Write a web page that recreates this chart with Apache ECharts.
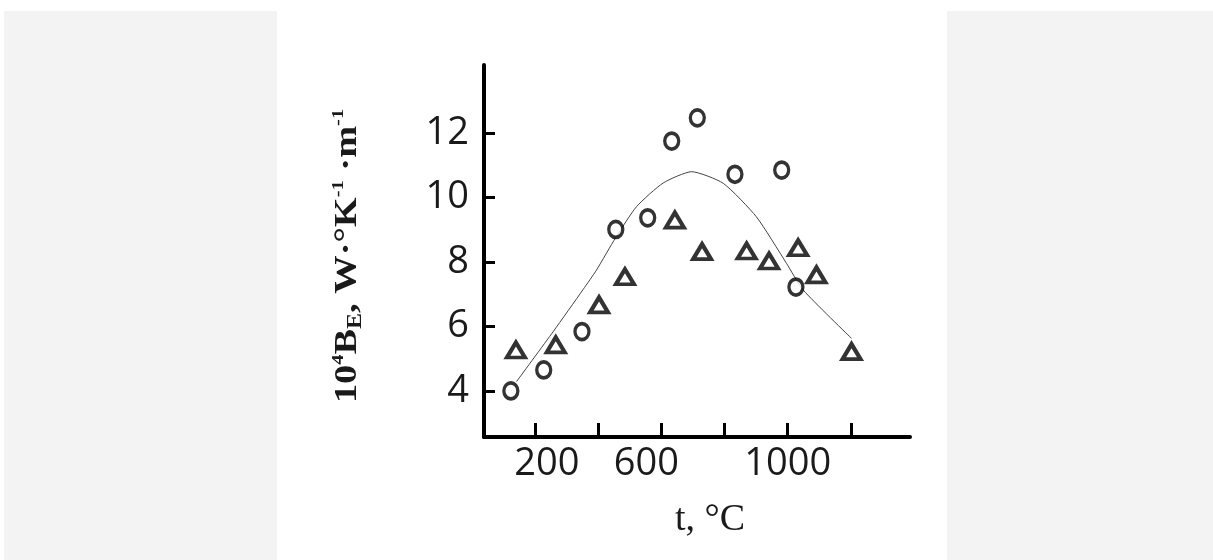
<!DOCTYPE html>
<html lang="en">
<head>
    <meta charset="UTF-8">
    <title>Thermal coefficient vs temperature</title>
    <script src="https://cdn.jsdelivr.net/npm/echarts@6.0.0/dist/echarts.min.js"></script>
    <style>
        html, body { margin: 0; padding: 0; background: #ffffff; }
        #main { width: 1213px; height: 560px; }
    </style>
</head>
<body>
    <div id="main"></div>
    <script>
        // readings: [t (°C), 10^4 B_E]
        const circlePoints = [
            [124, 4.0], [228, 4.65], [349, 5.84], [456, 9.01], [557, 9.37],
            [633, 11.75], [714, 12.47], [833, 10.72], [981, 10.85], [1026, 7.22]
        ];
        const trianglePoints = [
            [140, 5.27], [266, 5.43], [403, 6.67], [485, 7.54], [643, 9.30],
            [729, 8.32], [870, 8.34], [941, 8.03], [1033, 8.44], [1091, 7.6], [1202, 5.22]
        ];
        const fitCurve = [
            [142, 4.29], [258, 5.84], [353, 7.15], [395, 7.75], [456, 8.76], [522, 9.72],
            [606, 10.45], [696, 10.8], [796, 10.44], [901, 9.4], [996, 7.96],
            [1049, 7.13], [1202, 5.63]
        ];
        const xTicks = [200, 400, 600, 800, 1000, 1200];
        const xLabels = [200, 600, 1000];
        const yTicks = [4, 6, 8, 10, 12];

        const chart = echarts.init(document.getElementById('main'));

        const serif = 'Liberation Serif';
        const option = {
            backgroundColor: '#ffffff',
            animation: false,
            graphic: [
                // grey side panels of the original page
                { type: 'rect', z: -10, shape: { x: 4, y: 11, width: 273, height: 549 }, style: { fill: '#f3f3f3' } },
                { type: 'rect', z: -10, shape: { x: 947, y: 11, width: 266, height: 549 }, style: { fill: '#f3f3f3' } },
                {
                    type: 'text',
                    x: 348,
                    y: 256,
                    rotation: Math.PI / 2,
                    scaleX: 1.2,
                    style: {
                        text: '{a|10}{s|4}{a|B}{b|E}{a|, W·°K}{s|-1}{a| ·m}{s|-1}',
                        align: 'center',
                        verticalAlign: 'middle',
                        fill: '#1a1a1a',
                        rich: {
                            a: { fontFamily: serif, fontWeight: 'bold', fontSize: 32, lineHeight: 36, fill: '#1a1a1a' },
                            s: { fontFamily: serif, fontWeight: 'bold', fontSize: 17, lineHeight: 36, verticalAlign: 'top', fill: '#1a1a1a' },
                            b: { fontFamily: serif, fontWeight: 'bold', fontSize: 20, lineHeight: 36, verticalAlign: 'bottom', fill: '#1a1a1a' }
                        }
                    }
                }
            ],
            grid: { left: 484, right: 303, top: 65, bottom: 123 },
            xAxis: {
                type: 'value',
                min: 39,
                max: 1387,
                name: 't, °C',
                nameLocation: 'middle',
                nameGap: 64,
                nameTextStyle: { fontFamily: serif, fontSize: 38, color: '#1a1a1a', padding: [0, 0, 0, 26] },
                splitLine: { show: false },
                axisLine: { show: true, lineStyle: { color: '#000', width: 4 } },
                axisTick: { show: true, inside: true, length: 14, customValues: xTicks, lineStyle: { color: '#000', width: 3 } },
                axisLabel: {
                    customValues: xLabels,
                    margin: 8,
                    fontFamily: 'Open Sans',
                    fontSize: 38,
                    color: '#1a1a1a',
                    formatter: v => v === 200 ? '{r|200}' : (v === 600 ? '{l|600}' : '{n|' + v + '}'),
                    rich: {
                        r: { fontFamily: 'Open Sans', fontSize: 38, color: '#1a1a1a', padding: [0, 0, 0, 24] },
                        l: { fontFamily: 'Open Sans', fontSize: 38, color: '#1a1a1a', padding: [0, 30, 0, 0] },
                        n: { fontFamily: 'Open Sans', fontSize: 38, color: '#1a1a1a' }
                    }
                }
            },
            yAxis: {
                type: 'value',
                min: 2.57,
                max: 14.11,
                splitLine: { show: false },
                axisLine: { show: true, lineStyle: { color: '#000', width: 4 } },
                axisTick: { show: true, inside: true, length: 11, customValues: yTicks, lineStyle: { color: '#000', width: 3 } },
                axisLabel: {
                    customValues: yTicks,
                    margin: 15,
                    fontFamily: 'Open Sans',
                    fontSize: 38,
                    color: '#1a1a1a'
                }
            },
            series: [
                {
                    name: 'fit',
                    type: 'line',
                    data: fitCurve,
                    smooth: 0.2,
                    showSymbol: false,
                    lineStyle: { color: '#444', width: 1 },
                    z: 1
                },
                {
                    name: 'circles',
                    type: 'scatter',
                    data: circlePoints,
                    symbol: 'circle',
                    symbolSize: [14, 16],
                    itemStyle: { color: '#ffffff', borderColor: '#000', borderWidth: 3.5 },
                    z: 3
                },
                {
                    name: 'triangles',
                    type: 'scatter',
                    data: trianglePoints,
                    symbol: 'triangle',
                    symbolSize: [18, 15],
                    itemStyle: { color: '#ffffff', borderColor: '#000', borderWidth: 4 },
                    z: 3
                }
            ]
        };

        chart.setOption(option);
    </script>
</body>
</html>
